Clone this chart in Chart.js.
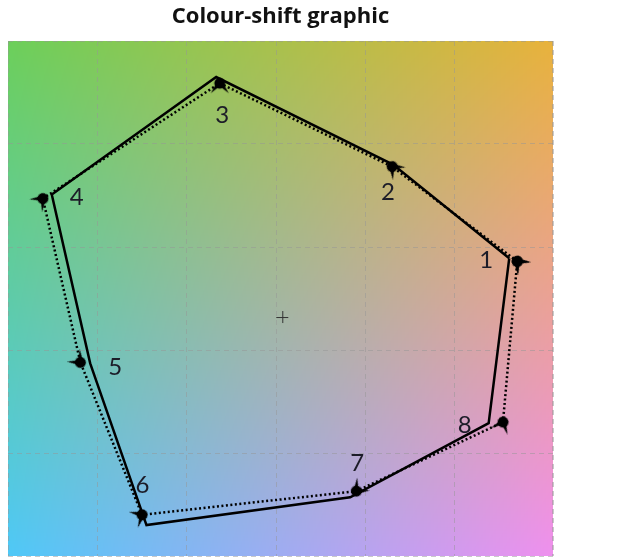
<!DOCTYPE html>
<html>
<head>
<meta charset="utf-8">
<script src="https://cdn.jsdelivr.net/npm/chart.js@4/dist/chart.umd.min.js"></script>
<style>
  html, body { margin: 0; padding: 0; background: #fff; }
  #wrap { width: 642px; height: 560px; }
</style>
</head>
<body>
<div id="wrap"><canvas id="shiftChart" width="642" height="560"></canvas></div>
<script>
// point numbers and the two polygons (x 0..6.1, y 0..5)
const pointLabels = ["1", "2", "3", "4", "5", "6", "7", "8"];
const solidX  = [5.61, 4.31, 2.33, 0.49, 0.92, 1.55, 3.83, 5.38];
const solidY  = [2.89, 3.80, 4.65, 3.51, 1.87, 0.30, 0.57, 1.29];
const dottedX = [5.70, 4.30, 2.37, 0.39, 0.81, 1.50, 3.90, 5.54];
const dottedY = [2.86, 3.78, 4.59, 3.47, 1.88, 0.40, 0.63, 1.30];
const arrowAngles = [225, 225, 270, 315, 45, 330, 135, 292];
const centreMark = { x: 3.07, y: 2.32 };

// label placement relative to the solid vertex, in px
const labelOffsets = [[-23, 2], [-5, 28], [6, 38], [25, 3], [25, 4], [-4, -40], [7, -34], [-24, 2]];

const toPoints = (xs, ys) => {
    const pts = xs.map((x, i) => ({ x: x, y: ys[i] }));
    pts.push(pts[0]); // close the shape
    return pts;
};

// dart-shaped marker
const marker = document.createElement("canvas");
marker.width = 24;
marker.height = 24;
(function () {
    const c = marker.getContext("2d");
    c.fillStyle = "#000";
    c.beginPath();
    c.arc(12, 12, 5.5, 0, Math.PI * 2);
    c.fill();
    c.beginPath();
    c.moveTo(18, 12);
    c.lineTo(2, 3);
    c.lineTo(9, 12);
    c.lineTo(2, 21);
    c.closePath();
    c.fill();
})();

const cornerTL = [108, 207, 90];
const cornerTR = [232, 178, 60];
const cornerBL = [79, 200, 247];
const cornerBR = [238, 144, 238];

const backdrop = {
    id: "backdrop",
    beforeDraw(chart) {
        const a = chart.chartArea;
        const ctx = chart.ctx;
        const w = Math.round(a.right - a.left), h = Math.round(a.bottom - a.top);
        const img = ctx.createImageData(w, h);
        for (let j = 0; j < h; j++) {
            const v = j / (h - 1);
            for (let i = 0; i < w; i++) {
                const u = i / (w - 1);
                const k = (j * w + i) * 4;
                for (let c = 0; c < 3; c++) {
                    const top = cornerTL[c] * (1 - u) + cornerTR[c] * u;
                    const bot = cornerBL[c] * (1 - u) + cornerBR[c] * u;
                    img.data[k + c] = top * (1 - v) + bot * v;
                }
                img.data[k + 3] = 255;
            }
        }
        ctx.putImageData(img, Math.round(a.left), Math.round(a.top));
    },
    afterDatasetsDraw(chart) {
        const ctx = chart.ctx;
        const xs = chart.scales.x, ys = chart.scales.y;
        const a = chart.chartArea;
        ctx.save();
        // frame on right side
        ctx.strokeStyle = "rgba(150,150,150,0.5)";
        ctx.setLineDash([5, 4]);
        ctx.lineWidth = 1;
        ctx.beginPath();
        ctx.moveTo(a.right - 0.5, a.top);
        ctx.lineTo(a.right - 0.5, a.bottom);
        ctx.stroke();
        ctx.setLineDash([]);
        // centre cross
        const cx = xs.getPixelForValue(centreMark.x), cy = ys.getPixelForValue(centreMark.y);
        ctx.strokeStyle = "#333";
        ctx.lineWidth = 1;
        ctx.beginPath();
        ctx.moveTo(cx - 6, cy + 0.5); ctx.lineTo(cx + 6, cy + 0.5);
        ctx.moveTo(cx + 0.5, cy - 6); ctx.lineTo(cx + 0.5, cy + 6);
        ctx.stroke();
        // numbers
        ctx.fillStyle = "#1c1c28";
        ctx.font = "24px Lato, 'Open Sans', sans-serif";
        ctx.textAlign = "center";
        ctx.textBaseline = "middle";
        pointLabels.forEach((t, i) => {
            const px = xs.getPixelForValue(solidX[i]) + labelOffsets[i][0];
            const py = ys.getPixelForValue(solidY[i]) + labelOffsets[i][1];
            ctx.fillText(t, px, py);
        });
        ctx.restore();
    }
};

const gridStyle = { color: "rgba(150,150,150,0.5)", drawTicks: false, tickLength: 0 };

const ctx = document.getElementById("shiftChart").getContext("2d");
new Chart(ctx, {
    type: "scatter",
    data: {
        datasets: [
            {
                label: "shifted",
                data: toPoints(dottedX, dottedY),
                showLine: true,
                borderColor: "#000",
                borderWidth: 2.5,
                borderDash: [2, 2.5],
                pointStyle: marker,
                pointRotation: arrowAngles.concat([arrowAngles[0]]),
                pointRadius: 9
            },
            {
                label: "original",
                data: toPoints(solidX, solidY),
                showLine: true,
                borderColor: "#000",
                borderWidth: 2.5,
                pointRadius: 0
            }
        ]
    },
    options: {
        responsive: false,
        animation: false,
        layout: { autoPadding: false, padding: { left: 8, right: 89, top: 0, bottom: 4 } },
        scales: {
            x: {
                type: "linear", min: 0, max: 6.1,
                ticks: { display: false, stepSize: 1, padding: 0 },
                grid: gridStyle,
                border: { display: false, dash: [5, 4] },
                afterFit: (s) => { s.height = 0; }
            },
            y: {
                type: "linear", min: 0, max: 5,
                ticks: { display: false, stepSize: 1, padding: 0 },
                grid: gridStyle,
                border: { display: false, dash: [5, 4] },
                afterFit: (s) => { s.width = 0; }
            }
        },
        plugins: {
            legend: { display: false },
            tooltip: { enabled: false },
            title: {
                display: true,
                text: "Colour-shift graphic",
                color: "#111",
                font: { family: "'Open Sans', sans-serif", size: 22, weight: "bold" },
                padding: { top: 4, bottom: 10.6 }
            }
        }
    },
    plugins: [backdrop]
});
</script>
</body>
</html>
